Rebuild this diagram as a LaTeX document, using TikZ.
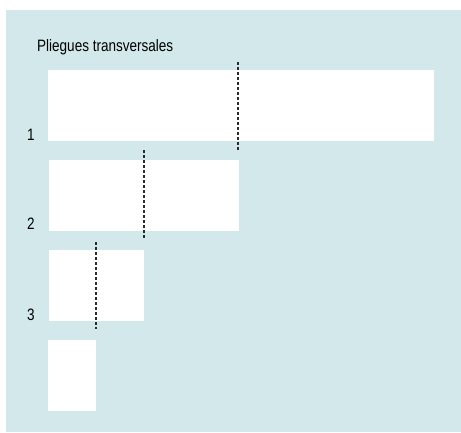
\documentclass[tikz,border=0pt]{standalone}
\usepackage{fontspec}
\setmainfont{Liberation Sans}
\definecolor{panel}{HTML}{D2E8EA}
\definecolor{foldgray}{HTML}{2A2A2A}

\begin{document}
\begin{tikzpicture}[x=1pt,y=-1pt,
    sheet/.style={fill=white,inner sep=0pt,outer sep=0pt,minimum height=71pt},
    lbl/.style={inner sep=0pt,xscale=0.82,font=\fontsize{16.5}{18}\selectfont},
    fold/.style={draw=foldgray,line width=1.3pt,dash pattern=on 3pt off 2pt}]
            \useasboundingbox (0,0) rectangle (461,432);
            \fill[panel] (6,10) rectangle (461,432);
            \node[lbl,anchor=base west] (title) at (37,51.7) {Pliegues transversales};
            % sheets, each folded in half
            \node[sheet,minimum width=386pt] (sheet1) at (241,105.5) {};
            \node[sheet,minimum width=190pt] (sheet2) at (144,195.5) {};
            \node[sheet,minimum width=95pt]  (sheet3) at (96.5,285.5) {};
            \node[sheet,minimum width=48pt]  (sheet4) at (72,375.5) {};
            \node[lbl,anchor=base] (n1) at (31,140.7) {1};
            \node[lbl,anchor=base] (n2) at (31,229.3) {2};
            \node[lbl,anchor=base] (n3) at (31,320) {3};
            % fold lines
            \coordinate (f1a) at (238,62);  \coordinate (f1b) at (238,150);
            \coordinate (f2a) at (144,150); \coordinate (f2b) at (144,238);
            \coordinate (f3a) at (96,242);  \coordinate (f3b) at (96,329);
            \draw[fold] (f1a) -- (f1b);
            \draw[fold] (f2a) -- (f2b);
            \draw[fold] (f3a) -- (f3b);
          \end{tikzpicture}
\end{document}
